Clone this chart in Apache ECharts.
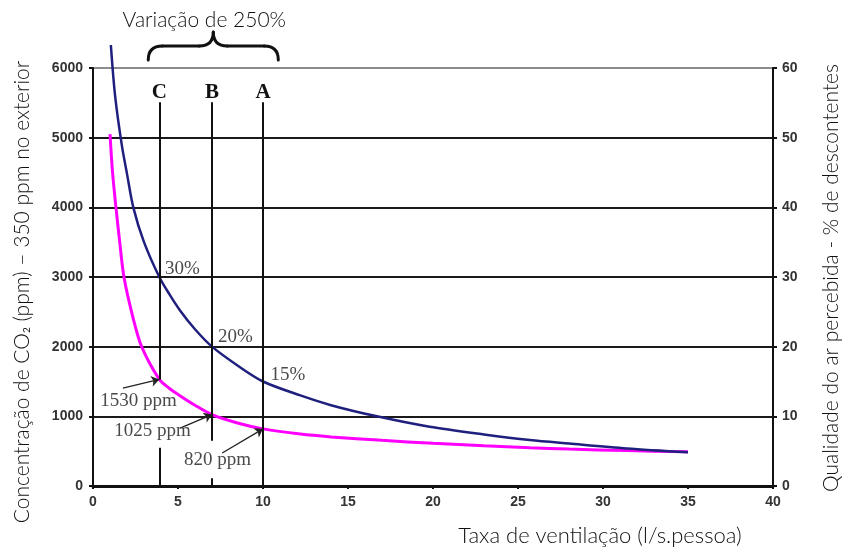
<!DOCTYPE html>
<html>
<head>
<meta charset="utf-8">
<script src="https://cdn.jsdelivr.net/npm/echarts@6/dist/echarts.min.js"></script>
<style>
  html, body { margin: 0; padding: 0; background: #fff; }
  #chart { width: 846px; height: 548px; }
</style>
</head>
<body>
<div id="chart"></div>
<script>
// Perceived air quality (% dissatisfied) against ventilation rate (l/s per person)
const pdRate = [1.05, 1.3, 1.69, 2.0, 2.37, 3.0, 3.9, 4.5, 5.12, 6.0, 7, 8.5, 10, 12.2, 14, 16.7, 19.8, 23, 25.7, 28, 31.4, 35];
const pdPercent = [63.3, 56, 49, 44.8, 40, 35, 30, 27.5, 25.2, 22.5, 20, 17.3, 15, 13, 11.6, 10, 8.5, 7.4, 6.6, 6.1, 5.4, 4.85];

// CO2 concentration above outdoor level (ppm) against ventilation rate
const co2Rate = [1.0, 1.15, 1.35, 1.55, 1.82, 2.37, 2.86, 3.9, 4.5, 5, 6, 7, 8.5, 10, 12.2, 14, 17, 20, 23, 25.7, 28, 31.4, 35];
const co2Ppm = [5050, 4500, 4000, 3550, 3000, 2400, 2000, 1530, 1400, 1315, 1160, 1025, 905, 820, 745, 705, 655, 612, 578, 550, 530, 508, 490];

// Reference ventilation rates C, B, A with their readings
const refNames = ['C', 'B', 'A'];
const refRates = [3.9, 7, 10];
const refPercent = [30, 20, 15];
const refPpm = [1530, 1025, 820];

// Axis ranges
const rateTicks = { min: 0, max: 40, step: 5 };
const ppmTicks = { min: 0, max: 6000, step: 1000 };
const pctTicks = { min: 0, max: 60, step: 10 };

const tickFont = { fontFamily: 'Liberation Sans, Arial', fontWeight: 'bold', fontSize: 14, color: '#333' };
const titleFont = 'Lato, "Open Sans", sans-serif';
const noteFont = '"Liberation Serif", "Times New Roman", serif';

const chart = echarts.init(document.getElementById('chart'), null, { renderer: 'canvas' });

const splitColors = ['#1a1a1a', '#1a1a1a', '#1a1a1a', '#1a1a1a', '#1a1a1a', '#1a1a1a', '#8c8c8c'];

// Vertical reference segments (gaps leave room for the ppm notes)
const refLineData = [
  [{ coord: [refRates[0], 5510] }, { coord: [refRates[0], refPpm[0]] }],
  [{ coord: [refRates[0], 550] }, { coord: [refRates[0], 0] }],
  [{ coord: [refRates[1], 5510] }, { coord: [refRates[1], 650] }],
  [{ coord: [refRates[1], 110] }, { coord: [refRates[1], 0] }],
  [{ coord: [refRates[2], 5510] }, { coord: [refRates[2], 0] }]
];

// Arrows from each ppm note to its point on the CO2 curve
const arrowStarts = [[1.76, 1406], [5.12, 832], [7.6, 473]];
const arrowData = refPpm.map((v, i) => [
  { coord: arrowStarts[i], symbol: 'none', lineStyle: { color: '#222', width: 1.3, type: 'solid' } },
  { coord: [refRates[i], v], symbol: 'arrow' }
]);

const ppmNotePos = [[2.68, 1220], [3.5, 789], [7.32, 373]];
const pctNotePos = [[5.26, 31.1], [8.38, 21.4], [11.47, 15.9]];

const noteLabel = (text, size, bold, color) => ({
  show: true, position: 'inside', formatter: text,
  fontFamily: noteFont, fontSize: size, fontWeight: bold ? 'bold' : 'normal', color: color
});

const option = {
  animation: false,
  backgroundColor: '#fff',
  grid: { left: 93, right: 73, top: 68, bottom: 62, outerBoundsMode: 'none', containLabel: false },
  xAxis: {
    type: 'value', min: rateTicks.min, max: rateTicks.max, interval: rateTicks.step,
    axisLine: { show: true, onZero: false, lineStyle: { color: '#111', width: 3 } },
    axisTick: { show: true, inside: false, length: 3, lineStyle: { color: '#111', width: 2 } },
    axisLabel: Object.assign({ margin: 9, formatter: v => String(v) }, tickFont),
    splitLine: { show: false }
  },
  yAxis: [
    {
      type: 'value', min: ppmTicks.min, max: ppmTicks.max, interval: ppmTicks.step, position: 'left',
      axisLine: { show: true, onZero: false, lineStyle: { color: '#111', width: 2 } },
      axisTick: { show: true, inside: false, length: 4, lineStyle: { color: '#111', width: 2 } },
      axisLabel: Object.assign({ margin: 10, formatter: v => String(v) }, tickFont),
      splitLine: { show: true, lineStyle: { color: splitColors, width: 2 } }
    },
    {
      type: 'value', min: pctTicks.min, max: pctTicks.max, interval: pctTicks.step, position: 'right',
      axisLine: { show: true, onZero: false, lineStyle: { color: '#111', width: 2 } },
      axisTick: { show: true, inside: false, length: 4, lineStyle: { color: '#111', width: 2 } },
      axisLabel: Object.assign({ margin: 9, formatter: v => String(v) }, tickFont),
      splitLine: { show: false }
    }
  ],
  series: [
    {
      name: 'Percentagem de descontentes',
      type: 'line', yAxisIndex: 1, clip: false,
      smooth: 0.3, showSymbol: false, symbol: 'none',
      lineStyle: { color: '#1f1f7e', width: 2.5 },
      data: pdRate.map((x, i) => [x, pdPercent[i]]),
      z: 4,
      markPoint: {
        symbol: 'rect', symbolSize: 1, itemStyle: { color: 'rgba(0,0,0,0)' },
        data: pctNotePos.map((p, i) => ({ coord: p, label: noteLabel(refPercent[i] + '%', 19, false, '#4a4a4a') }))
      }
    },
    {
      name: 'CO2',
      type: 'line', yAxisIndex: 0, clip: false,
      smooth: 0.3, showSymbol: false, symbol: 'none',
      lineStyle: { color: '#ff00ff', width: 3 },
      data: co2Rate.map((x, i) => [x, co2Ppm[i]]),
      z: 3,
      markLine: {
        silent: true, symbol: ['none', 'none'], symbolSize: 8,
        label: { show: false },
        lineStyle: { color: '#111', width: 2, type: 'solid' },
        data: refLineData.concat(arrowData)
      },
      markPoint: {
        symbol: 'rect', symbolSize: 1, itemStyle: { color: 'rgba(0,0,0,0)' },
        data: ppmNotePos.map((p, i) => ({ coord: p, label: noteLabel(refPpm[i] + ' ppm', 19, false, '#4a4a4a') }))
          .concat(refRates.map((x, i) => ({ coord: [x, 5650], label: noteLabel(refNames[i], 21, true, '#111') })))
      }
    }
  ]
};

chart.setOption(option);

// Brace spanning the reference rates, with its caption, plus the axis titles
const braceL = chart.convertToPixel({ xAxisIndex: 0 }, 3.25);
const braceR = chart.convertToPixel({ xAxisIndex: 0 }, 10.9);
const braceM = (braceL + braceR) / 2;
const by0 = 60, by1 = 46, by2 = 32, r = 14;
const braceStyle = { fill: null, stroke: '#111', lineWidth: 3, lineCap: 'round' };
const braceParts = [
  { type: 'bezierCurve', shape: { x1: braceL, y1: by0, cpx1: braceL, cpy1: by1, x2: braceL + r, y2: by1 } },
  { type: 'line', shape: { x1: braceL + r, y1: by1, x2: braceM - r, y2: by1 } },
  { type: 'bezierCurve', shape: { x1: braceM - r, y1: by1, cpx1: braceM, cpy1: by1, x2: braceM, y2: by2 } },
  { type: 'bezierCurve', shape: { x1: braceM, y1: by2, cpx1: braceM, cpy1: by1, x2: braceM + r, y2: by1 } },
  { type: 'line', shape: { x1: braceM + r, y1: by1, x2: braceR - r, y2: by1 } },
  { type: 'bezierCurve', shape: { x1: braceR - r, y1: by1, cpx1: braceR, cpy1: by1, x2: braceR, y2: by0 } }
].map(p => Object.assign(p, { style: braceStyle }));

const titleStyle = { font: '300 21px ' + titleFont, fill: '#111', align: 'center', verticalAlign: 'middle' };

chart.setOption({
  graphic: braceParts.concat([
    {
      type: 'text', x: braceM - 9, y: 20,
      style: Object.assign({ text: 'Variação de 250%' }, titleStyle)
    },
    {
      type: 'text', x: 22, y: 292, rotation: Math.PI / 2,
      style: Object.assign({
        text: 'Concentração de CO{sub|2} (ppm) – 350 ppm no exterior',
        rich: { sub: { fontSize: 10, fontFamily: titleFont, fill: '#111', padding: [9, 0, 0, 0] } }
      }, titleStyle)
    },
    {
      type: 'text', x: 831, y: 278, rotation: Math.PI / 2,
      style: Object.assign({ text: 'Qualidade do ar percebida - % de descontentes' }, titleStyle)
    },
    {
      type: 'text', x: 600, y: 536,
      style: Object.assign({ text: 'Taxa de ventilação (l/s.pessoa)' }, titleStyle, { font: '300 22px ' + titleFont })
    }
  ])
});
</script>
</body>
</html>
